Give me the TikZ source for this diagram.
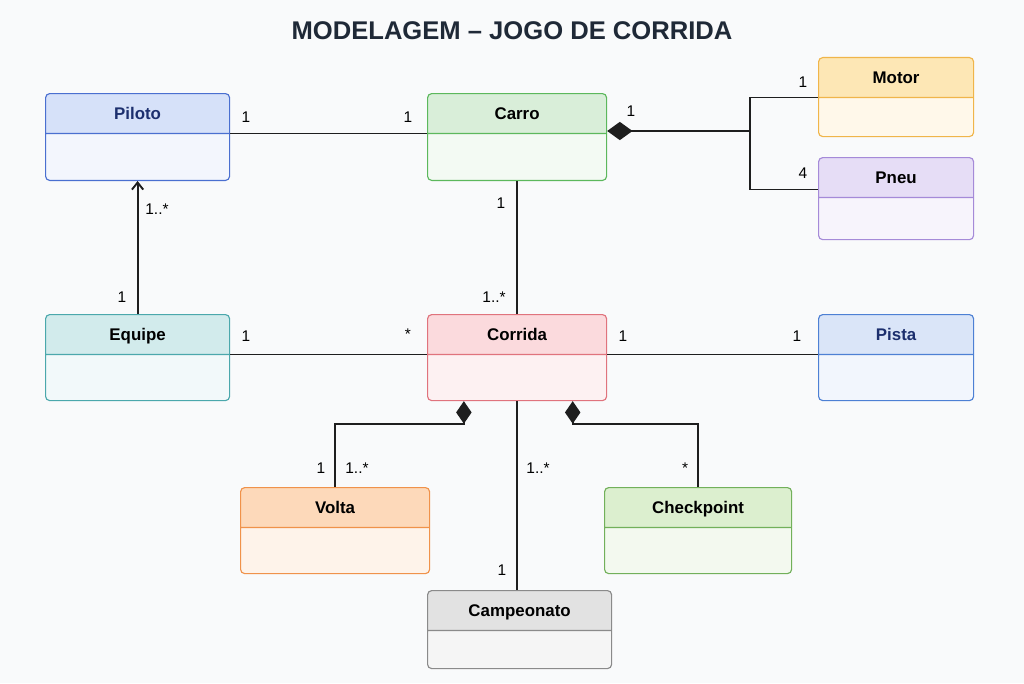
\documentclass[tikz,border=0pt]{standalone}
\usepackage{xcolor}
\usepackage{fontspec}
\setmainfont{Liberation Sans}
\usepackage{tikz}
\usetikzlibrary{shapes,shapes.multipart,arrows.meta,calc,positioning}

\definecolor{bgc}{HTML}{F9FAFB}
\definecolor{titlec}{HTML}{1F2937}
\definecolor{navy}{HTML}{1C2F6E}
\definecolor{linec}{HTML}{1E1E1E}
\definecolor{pilotoD}{HTML}{4A6FD0}\definecolor{pilotoH}{HTML}{D6E1F9}\definecolor{pilotoB}{HTML}{F3F6FD}
\definecolor{carroD}{HTML}{5CB85C}\definecolor{carroH}{HTML}{D9EED9}\definecolor{carroB}{HTML}{F3FAF3}
\definecolor{motorD}{HTML}{F0B54A}\definecolor{motorH}{HTML}{FDE7B5}\definecolor{motorB}{HTML}{FFF8EA}
\definecolor{pneuD}{HTML}{A58AD8}\definecolor{pneuH}{HTML}{E6DDF6}\definecolor{pneuB}{HTML}{F7F4FC}
\definecolor{equipeD}{HTML}{4BA8AC}\definecolor{equipeH}{HTML}{D2EBEC}\definecolor{equipeB}{HTML}{F2F9FA}
\definecolor{corridaD}{HTML}{E0737D}\definecolor{corridaH}{HTML}{FBDADD}\definecolor{corridaB}{HTML}{FDF1F2}
\definecolor{pistaD}{HTML}{4D80D4}\definecolor{pistaH}{HTML}{DAE5F8}\definecolor{pistaB}{HTML}{F2F6FD}
\definecolor{voltaD}{HTML}{F0924A}\definecolor{voltaH}{HTML}{FDD9BA}\definecolor{voltaB}{HTML}{FEF3EA}
\definecolor{checkD}{HTML}{72B05A}\definecolor{checkH}{HTML}{DCEFCF}\definecolor{checkB}{HTML}{F3F9EF}
\definecolor{campD}{HTML}{8A8A8A}\definecolor{campH}{HTML}{E2E2E2}\definecolor{campB}{HTML}{F5F5F5}

\newcommand{\hd}{\rule[-9.6pt]{0pt}{27.6pt}}

\begin{document}
\begin{tikzpicture}[x=0.025cm, y=-0.025cm,
		assoc/.style = {draw=linec, line width=1.35pt},
		nav/.style = {assoc, -{Straight Barb[length=5pt,width=8pt]}},
		comp/.style = {assoc, -{Diamond[length=16pt,width=11pt]}},
		mult/.style = {text=black, font=\fontsize{11}{13}\selectfont, inner sep=0pt}]
		\tikzset{cls/.style={rectangle split, rectangle split parts=2, draw, line width=0.8pt, rounded corners=3pt, inner xsep=0pt, inner ysep=0pt, text=black, font=\bfseries\fontsize{12}{14}\selectfont}}

		% background
		\fill[bgc] (0,0) rectangle (1024,683);
		\useasboundingbox (0,0) rectangle (1024,683);

		% title
		\node[text=titlec, font=\bfseries\fontsize{18.2}{22}\selectfont] (title) at (512,31) {MODELAGEM – JOGO DE CORRIDA};

		% classes
		\node[cls, draw=pilotoD, rectangle split part fill={pilotoH,pilotoB}, text=navy, minimum width=4.6cm, anchor=north west] (piloto) at (45,93) {\hd Piloto \nodepart{two}\rule{0pt}{32.6pt}};

		\node[cls, draw=carroD, rectangle split part fill={carroH,carroB}, minimum width=4.475cm, anchor=north west] (carro) at (427,93) {\hd Carro \nodepart{two}\rule{0pt}{32.6pt}};

		\node[cls, draw=motorD, rectangle split part fill={motorH,motorB}, minimum width=3.875cm, anchor=north west] (motor) at (818,57) {\hd Motor \nodepart{two}\rule{0pt}{27.0pt}};

		\node[cls, draw=pneuD, rectangle split part fill={pneuH,pneuB}, minimum width=3.875cm, anchor=north west] (pneu) at (818,157) {\hd Pneu \nodepart{two}\rule{0pt}{29.2pt}};

		\node[cls, draw=equipeD, rectangle split part fill={equipeH,equipeB}, minimum width=4.6cm, anchor=north west] (equipe) at (45,314) {\hd Equipe \nodepart{two}\rule{0pt}{32.0pt}};

		\node[cls, draw=corridaD, rectangle split part fill={corridaH,corridaB}, minimum width=4.475cm, anchor=north west] (corrida) at (427,314) {\hd Corrida \nodepart{two}\rule{0pt}{32.0pt}};

		\node[cls, draw=pistaD, rectangle split part fill={pistaH,pistaB}, text=navy, minimum width=3.875cm, anchor=north west] (pista) at (818,314) {\hd Pista \nodepart{two}\rule{0pt}{32.0pt}};

		\node[cls, draw=voltaD, rectangle split part fill={voltaH,voltaB}, minimum width=4.725cm, anchor=north west] (volta) at (240,487) {\hd Volta \nodepart{two}\rule{0pt}{32.0pt}};

		\node[cls, draw=checkD, rectangle split part fill={checkH,checkB}, minimum width=4.675cm, anchor=north west] (checkpoint) at (604,487) {\hd Checkpoint \nodepart{two}\rule{0pt}{32.0pt}};

		\node[cls, draw=campD, rectangle split part fill={campH,campB}, minimum width=4.6cm, anchor=north west] (campeonato) at (427,590) {\hd Campeonato \nodepart{two}\rule{0pt}{26.3pt}};

		% junction points
		\coordinate (jcarro) at (750,131);
		\coordinate (cvolta) at ([xshift=-1.33cm]corrida.south);
		\coordinate (ccheck) at ([xshift=1.39cm]corrida.south);

		% connectors
		\draw [assoc] (piloto.one split east) -- (carro.one split west);
		\draw [assoc, -{Diamond[length=18pt,width=13pt]}] (jcarro) -- (carro.one split east |- jcarro);
		\draw [assoc] (motor.one split west) -| (jcarro) |- ([yshift=0.2cm]pneu.one split west);
		\draw [assoc] (carro.south) -- (corrida.north);
		\draw [nav] (equipe.north) -- (piloto.south);
		\draw [assoc] (equipe.one split east) -- (corrida.one split west);
		\draw [assoc] (corrida.one split east) -- (pista.one split west);
		\draw [comp] (volta.north) |- ([yshift=-0.575cm]cvolta) -- (cvolta);
		\draw [comp] (checkpoint.north) |- ([yshift=-0.575cm]ccheck) -- (ccheck);
		\draw [assoc] (corrida.south) -- (corrida.south |- campeonato.north);

		% multiplicities
		\node[mult] (m1) at (246,117) {1};
		\node[mult] (m2) at (408,117) {1};
		\node[mult] (m3) at (631,111) {1};
		\node[mult] (m4) at (803,82) {1};
		\node[mult] (m5) at (803,173) {4};
		\node[mult] (m6) at (501,203) {1};
		\node[mult] (m7) at (494,297) {1..*};
		\node[mult] (m8) at (157,209) {1..*};
		\node[mult] (m9) at (122,297) {1};
		\node[mult] (m10) at (246,336) {1};
		\node[mult] (m11) at (408,334) {*};
		\node[mult] (m12) at (623,336) {1};
		\node[mult] (m13) at (797,336) {1};
		\node[mult] (m14) at (321,468) {1};
		\node[mult] (m15) at (357,468) {1..*};
		\node[mult] (m16) at (538,468) {1..*};
		\node[mult] (m17) at (685,468) {*};
		\node[mult] (m18) at (502,570) {1};

	\end{tikzpicture}
\end{document}
